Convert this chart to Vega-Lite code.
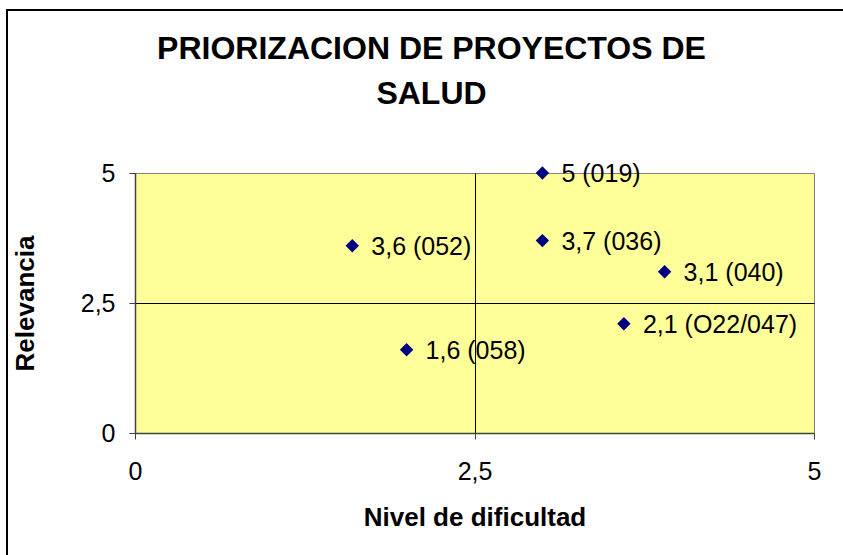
{
  "$schema": "https://vega.github.io/schema/vega-lite/v6.json",
  "autosize": {"type": "none"},
  "width": 679,
  "height": 260,
  "padding": {"left": 135, "top": 173, "right": 29, "bottom": 122},
  "background": "white",
  "title": {
    "text": ["PRIORIZACION DE PROYECTOS DE", "SALUD"],
    "font": "Liberation Sans",
    "fontSize": 32,
    "fontWeight": "bold",
    "color": "black",
    "lineHeight": 45,
    "anchor": "middle",
    "dx": -43,
    "offset": -102
  },
  "config": {
    "view": {"fill": "#FFFF99", "stroke": "#808080", "strokeWidth": 1},
    "axis": {
      "labelFont": "Liberation Sans",
      "labelFontSize": 25,
      "labelColor": "black",
      "titleFont": "Liberation Sans",
      "titleFontSize": 26,
      "titleFontWeight": "bold",
      "titleColor": "black",
      "domainColor": "#404040",
      "domainWidth": 1.5,
      "tickColor": "#404040",
      "tickSize": 6,
      "gridWidth": 1,
      "gridColor": {"condition": {"test": "datum.value === 2.5", "value": "black"}, "value": "transparent"}
    }
  },
  "datasets": {
    "frame": [{"x0": -0.9426, "x1": 7, "y0": 8.135, "y1": -4}],
    "pts": [
      {"dificultad": 3.0, "relevancia": 5.0, "etiqueta": "5 (019)"},
      {"dificultad": 1.6, "relevancia": 3.6, "etiqueta": "3,6 (052)"},
      {"dificultad": 3.0, "relevancia": 3.7, "etiqueta": "3,7 (036)"},
      {"dificultad": 3.9, "relevancia": 3.1, "etiqueta": "3,1 (040)"},
      {"dificultad": 3.6, "relevancia": 2.1, "etiqueta": "2,1 (O22/047)"},
      {"dificultad": 2.0, "relevancia": 1.6, "etiqueta": "1,6 (058)"}
    ]
  },
  "layer": [
    {
      "data": {"name": "pts"},
      "mark": {"type": "point", "shape": "diamond", "filled": true, "color": "#000080", "size": 180, "opacity": 1},
      "encoding": {
        "x": {
          "field": "dificultad", "type": "quantitative",
          "scale": {"domain": [0, 5], "nice": false, "zero": false},
          "axis": {
            "title": "Nivel de dificultad",
            "values": [0, 2.5, 5],
            "grid": true,
            "labelExpr": "datum.value === 2.5 ? '2,5' : format(datum.value, 'd')",
            "labelPadding": 20,
            "titlePadding": 20,
            "labelFlush": false
          }
        },
        "y": {
          "field": "relevancia", "type": "quantitative",
          "scale": {"domain": [0, 5], "nice": false, "zero": false},
          "axis": {
            "title": "Relevancia",
            "values": [0, 2.5, 5],
            "grid": true,
            "labelExpr": "datum.value === 2.5 ? '2,5' : format(datum.value, 'd')",
            "labelPadding": 14,
            "titlePadding": 42,
            "labelFlush": false
          }
        }
      }
    },
    {
      "data": {"name": "pts"},
      "mark": {"type": "text", "align": "left", "baseline": "middle", "dx": 19, "dy": 1, "font": "Liberation Sans", "fontSize": 25, "color": "black"},
      "encoding": {
        "x": {"field": "dificultad", "type": "quantitative"},
        "y": {"field": "relevancia", "type": "quantitative"},
        "text": {"field": "etiqueta"}
      }
    },
    {
      "data": {"name": "frame"},
      "mark": {"type": "rect", "fill": null, "fillOpacity": 0, "stroke": "black", "strokeWidth": 2, "clip": false},
      "encoding": {
        "x": {"field": "x0", "type": "quantitative"},
        "x2": {"field": "x1"},
        "y": {"field": "y0", "type": "quantitative"},
        "y2": {"field": "y1"}
      }
    }
  ]
}
